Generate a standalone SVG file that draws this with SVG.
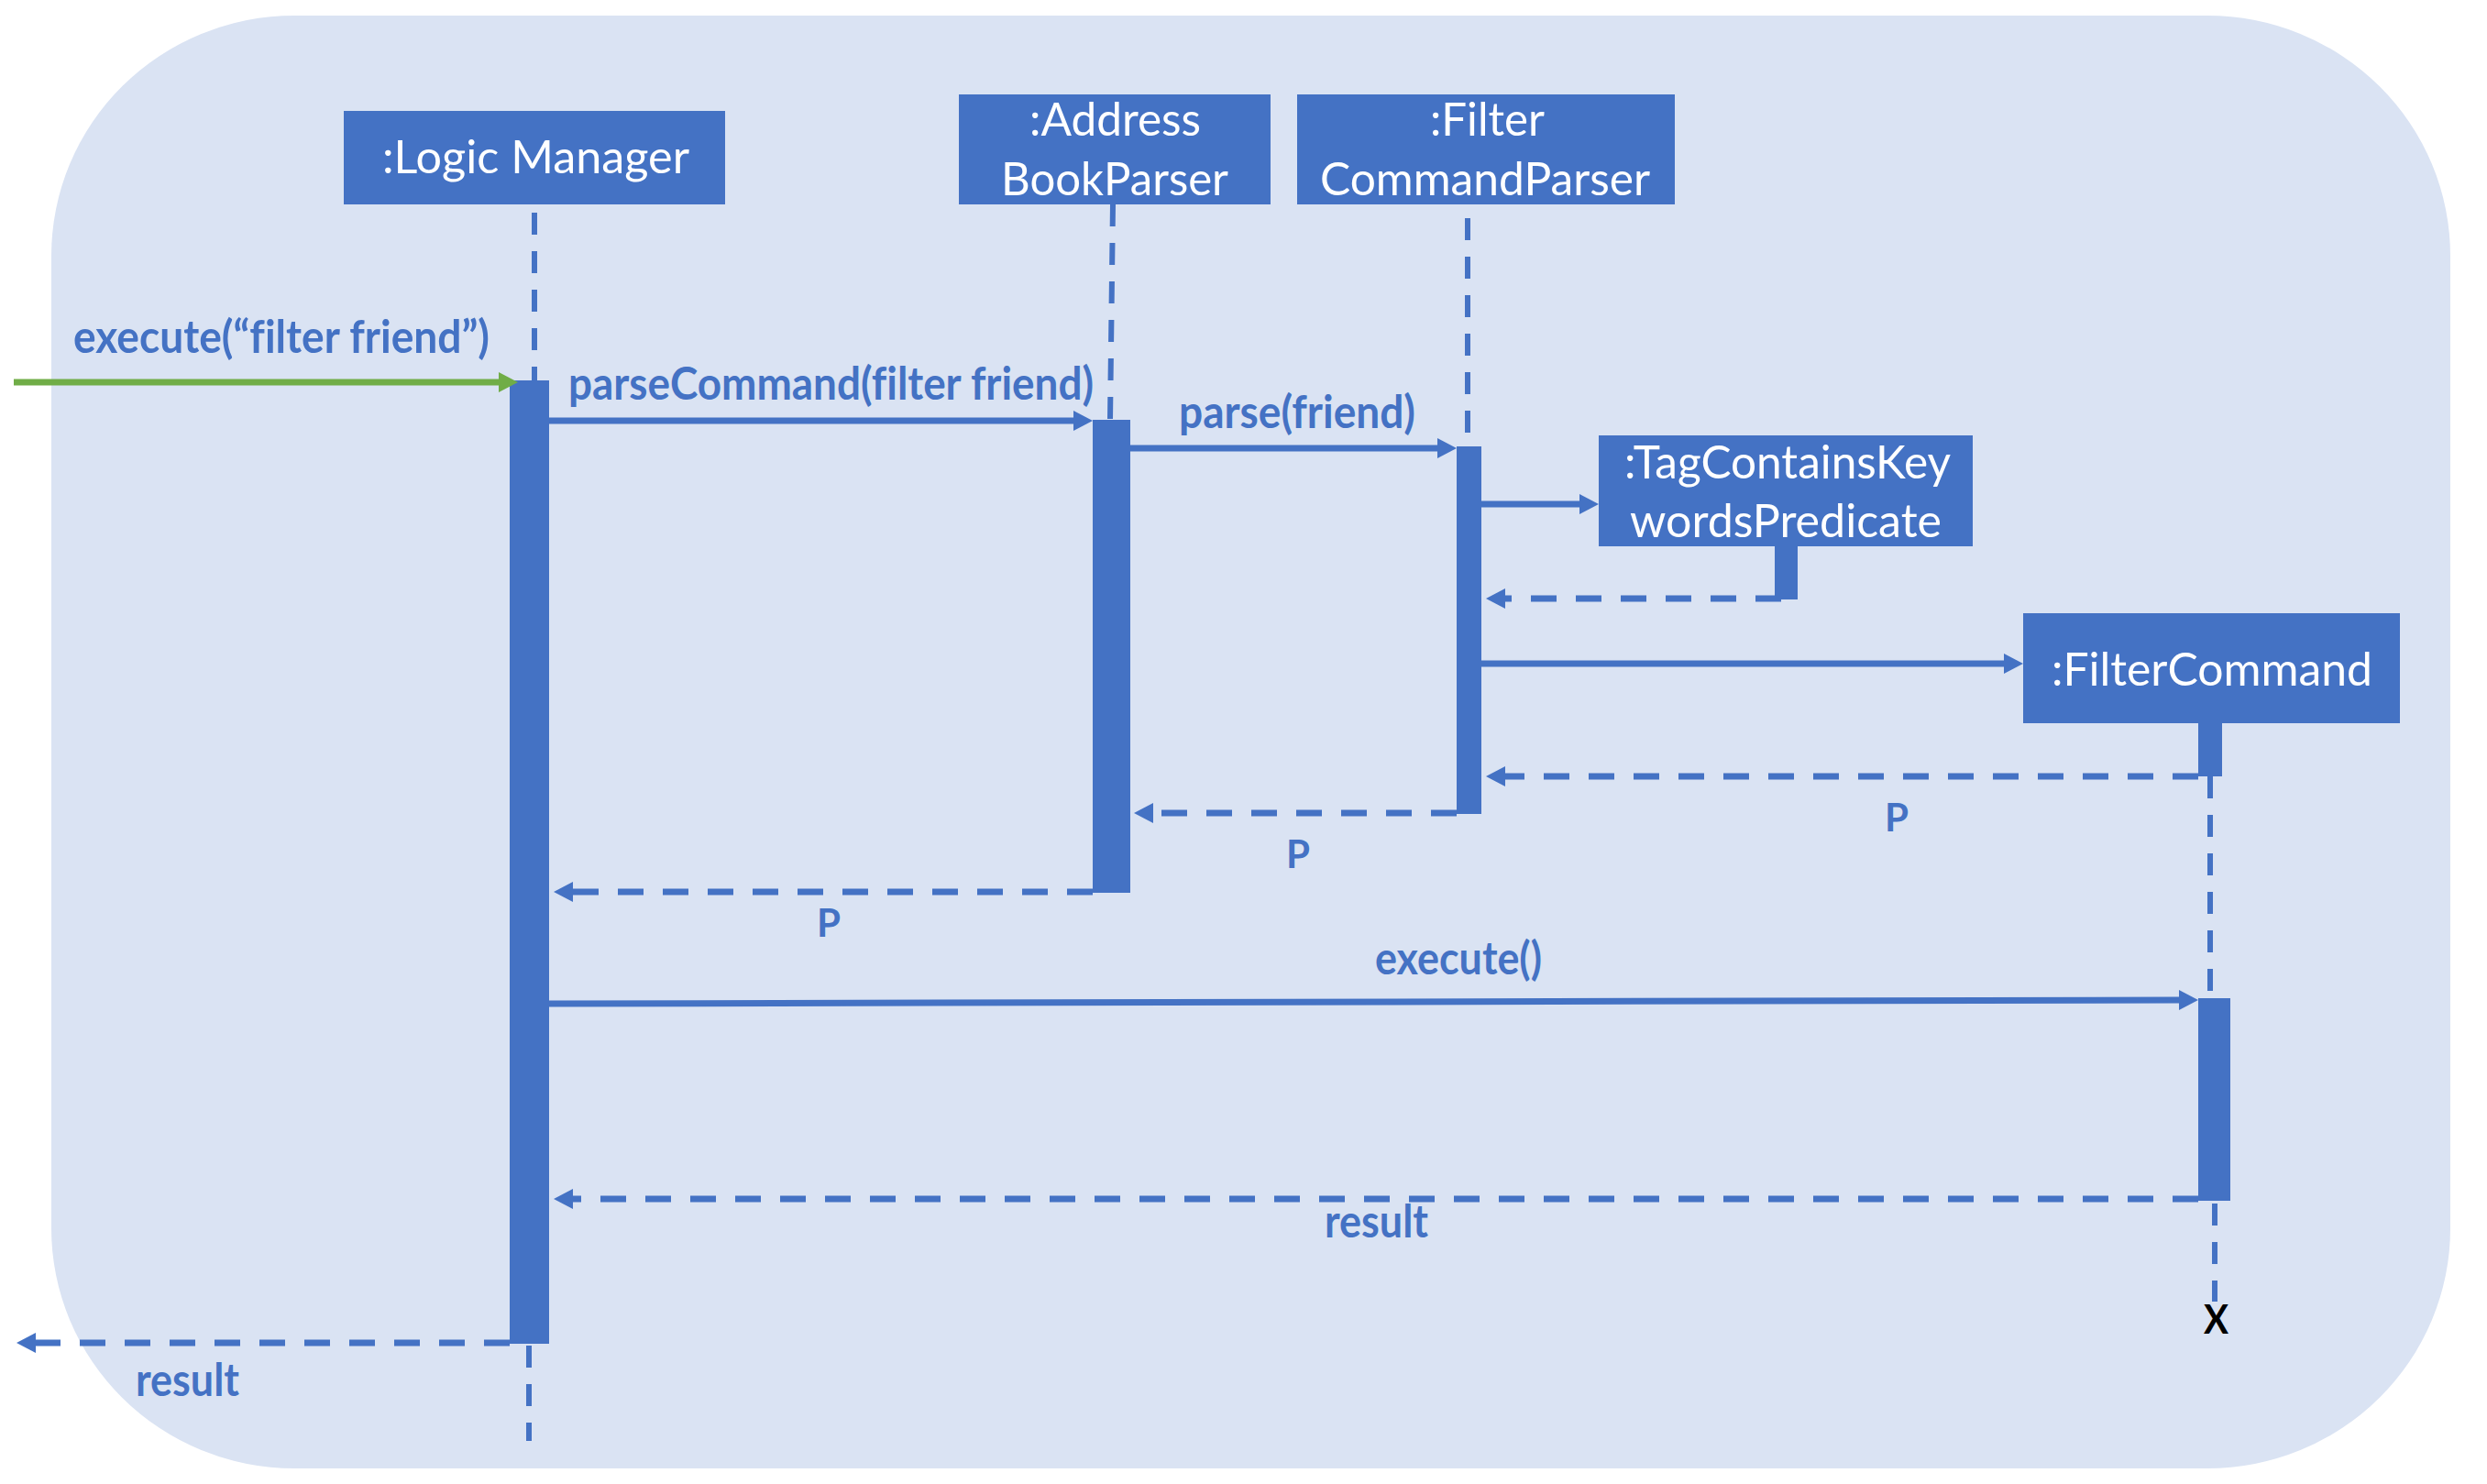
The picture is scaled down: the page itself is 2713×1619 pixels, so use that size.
<svg xmlns="http://www.w3.org/2000/svg" width="2713" height="1619" viewBox="0 0 2713 1619">
<defs>
<style>
text{font-variant-ligatures:none}
.bg{fill:#DAE3F3}
.box{fill:#4472C4}
.ntext{font-family:Lato,"Open Sans","Liberation Sans",sans-serif;font-size:50px;fill:#FFFFFF}
.lbl{font-family:Lato,"Open Sans","Liberation Sans",sans-serif;font-size:50px;font-weight:bold;fill:#4472C4}
.plbl{font-family:Lato,"Open Sans","Liberation Sans",sans-serif;font-size:42px;font-weight:bold;fill:#4472C4}
.xlbl{font-family:Lato,"Open Sans","Liberation Sans",sans-serif;font-size:44px;font-weight:bold;fill:#000000}
.life{stroke:#4472C4;stroke-width:6;stroke-dasharray:24 18;fill:none}
.msg{stroke:#4472C4;stroke-width:7;fill:none}
.green{stroke:#70AD47;stroke-width:7;fill:none}
.ret{stroke:#4472C4;stroke-width:7;stroke-dasharray:28 21;fill:none}
</style>
<marker id="ah" markerUnits="userSpaceOnUse" markerWidth="24" markerHeight="24" refX="1" refY="11" orient="auto"><path d="M0,0 L21,11 L0,22 z" fill="#4472C4"/></marker>
<marker id="ahg" markerUnits="userSpaceOnUse" markerWidth="24" markerHeight="24" refX="1" refY="11" orient="auto"><path d="M0,0 L21,11 L0,22 z" fill="#70AD47"/></marker>
</defs>
<rect x="0" y="0" width="2713" height="1619" fill="#FFFFFF"/>
<rect class="bg" x="56" y="17" width="2617" height="1585" rx="265" ry="262"/>

<g id="lifelines">
<line class="life" x1="583" y1="232" x2="583" y2="415"/>
<line class="life" x1="577" y1="1468" x2="577" y2="1572"/>
<line class="life" x1="1214" y1="223" x2="1211" y2="458"/>
<line class="life" x1="1601" y1="238" x2="1601" y2="487"/>
<line class="life" x1="2411" y1="847" x2="2411" y2="1089"/>
<line class="life" x1="2416" y1="1313" x2="2416" y2="1420"/>
</g>

<g id="node-logic-manager">
<rect class="box" x="375" y="121" width="416" height="102"/>
<text class="ntext" x="417" y="189" textLength="335" lengthAdjust="spacingAndGlyphs">:Logic Manager</text>
<rect class="box" x="556" y="415" width="43" height="1051"/>
</g>

<g id="node-addressbookparser">
<rect class="box" x="1046" y="103" width="340" height="120"/>
<text class="ntext" x="1123" y="148" textLength="187" lengthAdjust="spacingAndGlyphs">:Address</text>
<text class="ntext" x="1092" y="213" textLength="248" lengthAdjust="spacingAndGlyphs">BookParser</text>
<rect class="box" x="1192" y="458" width="41" height="516"/>
</g>

<g id="node-filtercommandparser">
<rect class="box" x="1415" y="103" width="412" height="120"/>
<text class="ntext" x="1560" y="148" textLength="125" lengthAdjust="spacingAndGlyphs">:Filter</text>
<text class="ntext" x="1440" y="213" textLength="360" lengthAdjust="spacingAndGlyphs">CommandParser</text>
<rect class="box" x="1589" y="487" width="27" height="401"/>
</g>

<g id="node-tagcontainskeywordspredicate">
<rect class="box" x="1744" y="475" width="408" height="121"/>
<text class="ntext" x="1772" y="522" textLength="356" lengthAdjust="spacingAndGlyphs">:TagContainsKey</text>
<text class="ntext" x="1778" y="586" textLength="340" lengthAdjust="spacingAndGlyphs">wordsPredicate</text>
<rect class="box" x="1936" y="596" width="25" height="58"/>
</g>

<g id="node-filtercommand">
<rect class="box" x="2207" y="669" width="411" height="120"/>
<text class="ntext" x="2238" y="748" textLength="350" lengthAdjust="spacingAndGlyphs">:FilterCommand</text>
<rect class="box" x="2398" y="789" width="26" height="58"/>
<rect class="box" x="2398" y="1089" width="35" height="221"/>
<text class="xlbl" x="2404" y="1455" textLength="27" lengthAdjust="spacingAndGlyphs">X</text>
</g>

<g id="connectors">
<line class="green" x1="15" y1="417" x2="545" y2="417" marker-end="url(#ahg)"/>
<text class="lbl" x="80" y="385" textLength="454" lengthAdjust="spacingAndGlyphs">execute(“filter friend”)</text>

<line class="msg" x1="599" y1="459" x2="1172" y2="459" marker-end="url(#ah)"/>
<text class="lbl" x="620" y="436" textLength="573" lengthAdjust="spacingAndGlyphs">parseCommand(filter friend)</text>

<line class="msg" x1="1233" y1="489" x2="1569" y2="489" marker-end="url(#ah)"/>
<text class="lbl" x="1286" y="467" textLength="258" lengthAdjust="spacingAndGlyphs">parse(friend)</text>

<line class="msg" x1="1616" y1="550" x2="1724" y2="550" marker-end="url(#ah)"/>

<line class="ret" x1="1943" y1="653" x2="1641" y2="653" marker-end="url(#ah)"/>

<line class="msg" x1="1616" y1="724" x2="2187" y2="724" marker-end="url(#ah)"/>

<line class="ret" x1="2398" y1="847" x2="1641" y2="847" marker-end="url(#ah)"/>
<text class="plbl" x="2056" y="907">P</text>

<line class="ret" x1="1589" y1="887" x2="1257" y2="887" marker-end="url(#ah)"/>
<text class="plbl" x="1403" y="947">P</text>

<line class="ret" x1="1192" y1="973" x2="624" y2="973" marker-end="url(#ah)"/>
<text class="plbl" x="891" y="1022">P</text>

<line class="msg" x1="599" y1="1095" x2="2378" y2="1091" marker-end="url(#ah)"/>
<text class="lbl" x="1500" y="1063" textLength="182" lengthAdjust="spacingAndGlyphs">execute()</text>

<line class="ret" x1="2398" y1="1308" x2="624" y2="1308" marker-end="url(#ah)"/>
<text class="lbl" x="1445" y="1350" textLength="113" lengthAdjust="spacingAndGlyphs">result</text>

<line class="ret" x1="556" y1="1465" x2="38" y2="1465" marker-end="url(#ah)"/>
<text class="lbl" x="148" y="1523" textLength="113" lengthAdjust="spacingAndGlyphs">result</text>
</g>
</svg>
